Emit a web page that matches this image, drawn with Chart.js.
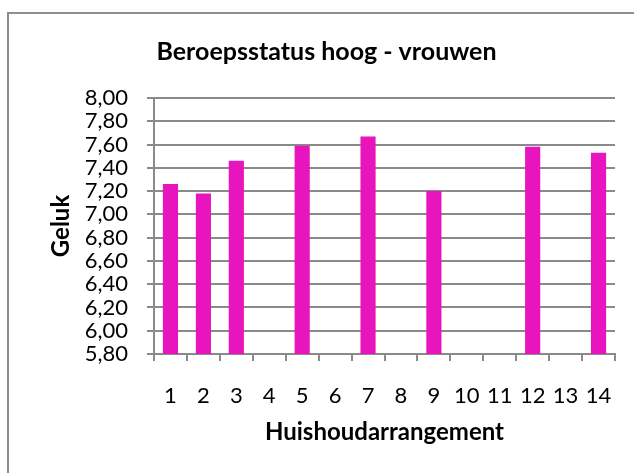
<!DOCTYPE html>
<html>

<head>
    <title>Beroepsstatus hoog - vrouwen</title>
    <script src="https://cdn.jsdelivr.net/npm/chart.js"></script>
    <style>
        body {
            margin: 0;
            background: #fff;
        }

        #wrap {
            position: relative;
            width: 634px;
            height: 473px;
            overflow: hidden;
        }

        /* chart frame, only top and left edge fall inside the picture */
        #frame {
            position: absolute;
            left: 7px;
            top: 12px;
            width: 640px;
            height: 480px;
            border: 2px solid #8e8e8e;
            box-sizing: border-box;
        }
    </style>
</head>

<body>
    <div id="wrap">
        <div id="frame"></div>
        <canvas id="myChart" width="634" height="473"></canvas>
    </div>

    <script>
        // data (empty categories have no bar)
        const categories = ['1', '2', '3', '4', '5', '6', '7', '8', '9', '10', '11', '12', '13', '14'];
        const geluk = [7.26, 7.18, 7.46, null, 7.59, null, 7.67, null, 7.20, null, null, 7.58, null, 7.53];
        const yMin = 5.8;
        const yMax = 8.0;
        const yStep = 0.2;

        const font = "Lato, 'Open Sans', sans-serif";
        const gridGray = '#8a8a8a';

        const ctx = document.getElementById('myChart').getContext('2d');

        const myChart = new Chart(ctx, {
            type: 'bar',
            data: {
                labels: categories,
                datasets: [{
                    label: 'Geluk',
                    data: geluk,
                    backgroundColor: '#e814bd',
                    borderWidth: 0,
                    barPercentage: 0.46,
                    categoryPercentage: 1
                }]
            },
            options: {
                responsive: false,
                animation: false,
                layout: {
                    // left padding pushes the title centre over to where it sits in the original
                    padding: { left: 38, right: 19, top: 0, bottom: 0 }
                },
                plugins: {
                    legend: { display: false },
                    tooltip: { enabled: false },
                    title: {
                        display: true,
                        text: 'Beroepsstatus hoog - vrouwen',
                        color: '#000',
                        font: { family: font, size: 25, weight: 'bold' },
                        padding: { top: 37, bottom: 31 }
                    }
                },
                scales: {
                    x: {
                        offset: true,
                        afterFit: (scale) => { scale.height = 119; },
                        border: { color: gridGray, width: 2 },
                        grid: {
                            offset: true,
                            drawOnChartArea: false,
                            color: gridGray,
                            lineWidth: 2,
                            tickLength: 7
                        },
                        ticks: {
                            color: '#000',
                            autoSkip: false,
                            maxRotation: 0,
                            padding: 22,
                            font: { family: font, size: 22 }
                        },
                        title: {
                            display: true,
                            text: 'Huishoudarrangement',
                            color: '#000',
                            font: { family: font, size: 24, weight: 'bold' },
                            padding: { top: 0, bottom: 26 }
                        }
                    },
                    y: {
                        min: yMin,
                        max: yMax,
                        afterFit: (scale) => { scale.width = 116; },
                        border: { color: gridGray, width: 2 },
                        grid: {
                            color: gridGray,
                            lineWidth: 2,
                            tickLength: 7
                        },
                        ticks: {
                            stepSize: yStep,
                            autoSkip: false,
                            color: '#000',
                            padding: 19,
                            font: { family: font, size: 22 },
                            callback: (v) => v.toFixed(2).replace('.', ',')
                        },
                        title: {
                            display: true,
                            text: 'Geluk',
                            color: '#000',
                            font: { family: font, size: 24, weight: 'bold' },
                            padding: { top: 9, bottom: 0 }
                        }
                    }
                }
            }
        });
    </script>
</body>

</html>
